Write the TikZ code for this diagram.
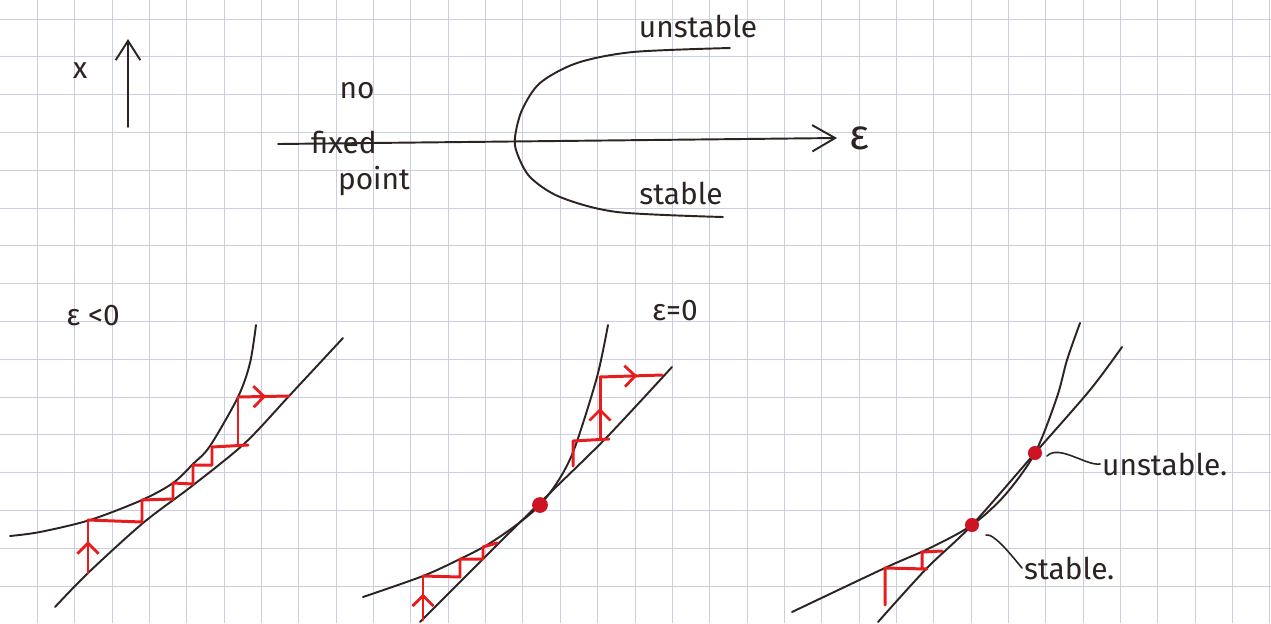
\documentclass[tikz,border=0pt]{standalone}
\usepackage{fontspec}
\setmainfont{Fira Sans}
\usetikzlibrary{arrows.meta,positioning,decorations.markings}
\definecolor{ink}{RGB}{45,35,35}
\definecolor{redink}{RGB}{232,28,28}
\definecolor{dotred}{RGB}{205,20,35}
\definecolor{gridline}{RGB}{205,205,224}

\begin{document}
\begin{tikzpicture}[
  x=0.02cm, y=-0.02cm,
  ink/.style={draw=ink, line width=1.1pt, line cap=round},
  cobweb/.style={draw=redink, line width=1.7pt, line join=round, line cap=round},
  midarrow/.style={postaction={decorate}, decoration={markings, mark=at position #1 with {\arrow[redink, line width=1.6pt]{Straight Barb[length=6pt,width=12pt]}}}},
  handtext/.style={font=\fontsize{17}{20}\selectfont, text=ink, inner sep=1pt},
  fixpt/.style={circle, fill=dotred, minimum size=8pt, inner sep=0pt},
  gridrule/.style={draw=gridline, line width=0.5pt}
]
\useasboundingbox (0,0) rectangle (1271,623);
\fill[white] (0,0) rectangle (1271,623);
\foreach \k in {1,...,34} \draw[gridrule] (37.35*\k,0) -- (37.35*\k,623);
\foreach \k in {0,...,15} \draw[gridrule] (0,19+37.8*\k) -- (1271,19+37.8*\k);

% bifurcation diagram
\node[handtext] (xlbl) at (80,71) {x};
\coordinate (xbot) at (128,127);
\coordinate (xtop) at (128,39);
\draw[ink, -{Straight Barb[length=11pt,width=14pt]}] (xbot) -- (xtop);
\coordinate (axl) at (278,144);
\coordinate (axr) at (837,138);
\draw[ink, -{Straight Barb[length=13pt,width=15pt]}] (axl) -- (axr);
\node[handtext, font=\fontsize{24}{26}\selectfont, right=6pt of axr] (epslbl) {ε};
\node[handtext] (nolbl) at (357,91) {no};
\node[handtext] (fixedlbl) at (344,142) {fixed};
\node[handtext] (pointlbl) at (374,181) {point};
\draw[ink] plot[smooth] coordinates {(730,48) (633,52) (577,63) (540,83) (522,110) (515,137) (517,153) (530,177) (560,197) (617,212) (723,217)};
\node[handtext] (unsttop) at (698,26) {unstable};
\node[handtext] (stabtop) at (681,193) {stable};

% eps < 0
\node[handtext] (epsneg) at (93,316) {ε <0};
\draw[ink] plot[smooth] coordinates {(10,536) (40,532) (90,520) (142,500) (173,483) (193,464) (210,446) (238,397) (250,363) (256,325)};
\draw[ink] plot[smooth] coordinates {(55,607) (88,573) (143,523) (192,486) (245,443) (290,395) (343,338)};
\draw[cobweb, midarrow=0.6] (88,573) -- (88,520);
\draw[cobweb] (88,520) -- (142,522) -- (142,500) -- (173,499) -- (173,483) -- (193,484) -- (193,465) -- (212,465) -- (212,447) -- (248,445);
\draw[cobweb] (238,445) -- (238,397);
\draw[cobweb, midarrow=0.55] (238,397) -- (289,396);

% eps = 0
\node[handtext] (epszero) at (675,311) {ε=0};
\draw[ink] plot[smooth] coordinates {(363,597) (423,576) (460,559) (487,545) (515,526) (540,505) (560,478) (575,447) (597,377) (608,325)};
\draw[ink] plot[smooth] coordinates {(420,622) (500,542) (553,490) (607,437) (672,367)};
\node[fixpt, minimum size=9pt] (fp2) at (540,505) {};
\draw[cobweb, midarrow=0.6] (423,620) -- (423,576);
\draw[cobweb] (423,576) -- (460,577) -- (460,559) -- (483,559) -- (483,547) -- (497,543);
\draw[cobweb] (573,466) -- (573,441) -- (609,439);
\draw[cobweb, midarrow=0.5] (600,439) -- (600,377);
\draw[cobweb, midarrow=0.6] (600,377) -- (662,375);

% eps > 0
\draw[ink] plot[smooth] coordinates {(792,612) (887,567) (930,548) (972,525) (1005,495) (1035,453) (1057,397) (1067,360) (1080,323)};
\draw[ink] plot[smooth] coordinates {(878,622) (927,568) (972,525) (1035,453) (1090,390) (1122,347)};
\draw[cobweb] (885,605) -- (885,568) -- (927,569);
\draw[cobweb] (922,569) -- (922,552) -- (942,551);
\node[fixpt] (s3) at (972,525) {};
\node[fixpt] (u3) at (1035,453) {};
\node[handtext, anchor=west] (ulbl) at (1100,464) {unstable.};
\node[handtext, anchor=west] (slbl) at (1022,568) {stable.};
\draw[ink, line width=0.9pt] (u3) ++(12,3) .. controls +(12,-12) and +(-14,2) .. (ulbl.west);
\draw[ink, line width=0.9pt] (s3) ++(14,10) .. controls +(8,-2) and +(-10,-12) .. (slbl.west);
\end{tikzpicture}
\end{document}
